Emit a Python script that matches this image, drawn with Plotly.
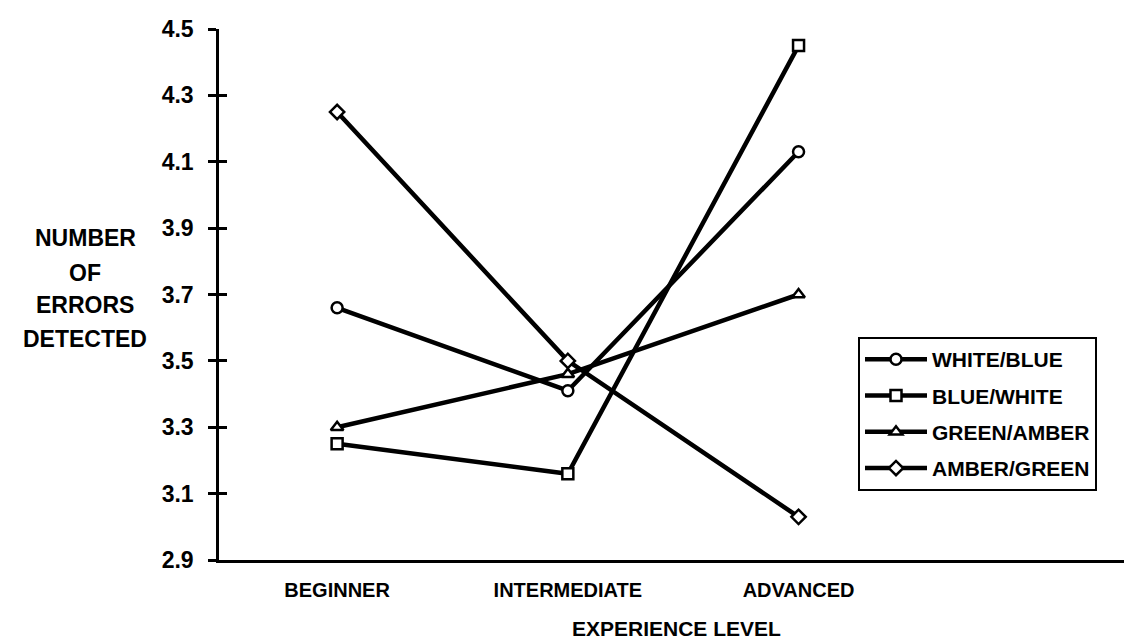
import plotly.graph_objects as go

categories = ["BEGINNER", "INTERMEDIATE", "ADVANCED"]
white_blue = [3.66, 3.41, 4.13]
blue_white = [3.25, 3.16, 4.45]
green_amber = [3.30, 3.46, 3.70]
amber_green = [4.25, 3.50, 3.03]
series_names = ["WHITE/BLUE", "BLUE/WHITE", "GREEN/AMBER", "AMBER/GREEN"]
series_symbols = ["circle", "square", "triangle-up", "diamond"]
y_ticks = [2.9, 3.1, 3.3, 3.5, 3.7, 3.9, 4.1, 4.3, 4.5]
y_title_lines = ["NUMBER", "OF", "ERRORS", "DETECTED"]
x_title = "EXPERIENCE LEVEL"

FONT = "Liberation Sans, Arial, sans-serif"
W, H = 1132, 643
L, R, T, B = 211, 0, 21, 91
pw, ph = W - L - R, H - T - B

fig = go.Figure()
all_vals = [white_blue, blue_white, green_amber, amber_green]
for i, (name, vals, sym) in enumerate(zip(series_names, all_vals, series_symbols)):
    fig.add_trace(go.Scatter(
        x=categories, y=vals, name=name, mode="lines+markers",
        legendgroup=f"g{i}",
        yaxis="y2" if i == len(series_names) - 1 else "y",
        line=dict(color="black", width=4.5),
        marker=dict(symbol=sym, size=11, color="white",
                    line=dict(color="black", width=2.5)),
    ))

fig.update_layout(
    width=W, height=H,
    margin=dict(l=L, r=R, t=T, b=B),
    paper_bgcolor="white", plot_bgcolor="white",
    font=dict(family=FONT, color="black"),
    showlegend=True,
    legend=dict(
        x=(850 - L) / pw, y=(H - B - 329) / ph, xanchor="left", yanchor="top",
        bordercolor="black", borderwidth=2, bgcolor="white",
        font=dict(family=FONT, size=21, color="black", weight="bold"),
        tracegroupgap=6, itemwidth=62,
    ),
    xaxis=dict(
        type="category", range=[-0.512, 3.48],
        showline=True, linecolor="black", linewidth=2.5,
        showgrid=False, zeroline=False, ticks="",
        tickfont=dict(family=FONT, size=20, color="black", weight="bold"),
        ticklabelstandoff=10,
    ),
    yaxis=dict(
        range=[2.9, 4.5], tickvals=y_ticks, ticktext=[f"{v:.1f}" for v in y_ticks],
        showline=True, linecolor="black", linewidth=2.5,
        showgrid=False, zeroline=False,
        ticks="outside", ticklen=8, tickwidth=2.5, tickcolor="black",
        tickfont=dict(family=FONT, size=23, color="black", weight="bold"),
        ticklabelstandoff=10,
    ),
    yaxis2=dict(
        range=[2.9, 4.5], tickvals=y_ticks, overlaying="y", anchor="x", side="left",
        showline=False, showgrid=False, zeroline=False, showticklabels=False,
        ticks="inside", ticklen=8, tickwidth=2.5, tickcolor="black",
    ),
)

ys = [230, 265, 297, 331]
for txt, yy in zip(y_title_lines, ys):
    fig.add_annotation(text=txt, xref="paper", yref="paper",
                       x=(77 - L) / pw, y=(H - B - yy) / ph,
                       xanchor="center", yanchor="middle", showarrow=False,
                       font=dict(family=FONT, size=23, color="black", weight="bold"))

fig.add_annotation(text=x_title, xref="paper", yref="paper",
                   x=(668 - L) / pw, y=(H - B - 620) / ph,
                   xanchor="center", yanchor="middle", showarrow=False,
                   font=dict(family=FONT, size=21, color="black", weight="bold"))

fig.write_html("out.html")
